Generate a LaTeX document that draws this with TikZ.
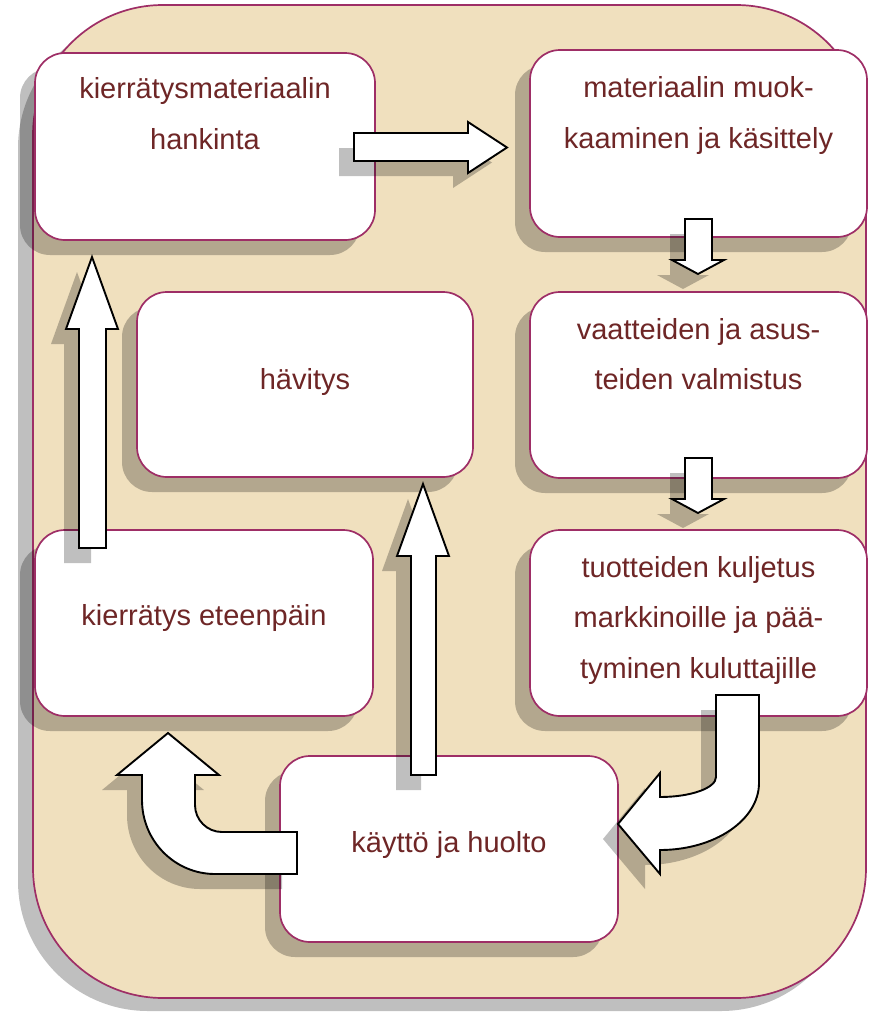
\documentclass[tikz,border=0pt]{standalone}
\usepackage{fontspec}
\setmainfont{Liberation Sans}
\usetikzlibrary{shadows}
\definecolor{bg}{RGB}{240,224,190}
\definecolor{bd}{RGB}{158,46,102}
\definecolor{tx}{RGB}{110,38,38}
\begin{document}
\begin{tikzpicture}[x=1pt,y=-1pt,
  shd/.style={drop shadow={shadow xshift=-15pt,shadow yshift=-15pt,fill=black,opacity=0.25}},
  box/.style={shd,draw=bd,line width=1.7pt,fill=white,rounded corners=30pt,rectangle,inner sep=0pt,minimum width=338pt,minimum height=186pt},
  blk/.style={shd,draw=black,line width=1.9pt,fill=white,line join=miter},
  lbl/.style={text=tx,font=\fontsize{29}{34}\selectfont,anchor=base,inner sep=0pt}]
\useasboundingbox (0,0) rectangle (870,1012);
% background panel
\path[draw=bd,line width=1.7pt,fill=bg,rounded corners=130pt,
  drop shadow={shadow xshift=-15pt,shadow yshift=-13pt,fill=black,opacity=0.25}]
  (33,5) rectangle (866,998);
% boxes
\node[box,minimum width=340pt,minimum height=187pt] (b1) at (205,146.5) {};
\node[box,minimum width=337pt,minimum height=187pt] (b2) at (698.5,143.5) {};
\node[box,minimum width=337pt] (b3) at (698.5,385) {};
\node[box,minimum width=337pt] (b4) at (698.5,623) {};
\node[box,minimum width=336pt,minimum height=185pt] (b5) at (305,384.5) {};
\node[box] (b6) at (204,623) {};
\node[box] (b7) at (449,849) {};
% block arrows
\path[blk] (354,133) -- (468,133) -- (468,122) -- (507,147.5) -- (468,173) -- (468,161) -- (354,161) -- cycle;
\path[blk] (685,219) -- (712,219) -- (712,260) -- (724,260) -- (698,274) -- (672,260) -- (685,260) -- cycle;
\path[blk] (685,458) -- (712,458) -- (712,499) -- (724,499) -- (698,513) -- (672,499) -- (685,499) -- cycle;
\path[blk] (79,548) -- (79,329) -- (66,329) -- (92,257) -- (118,329) -- (106,329) -- (106,548) -- cycle;
\path[blk] (411,775) -- (411,556) -- (397,556) -- (423,484) -- (449,556) -- (436,556) -- (436,775) -- cycle;
\path[blk] (716,695) -- (759,695) -- (759,783)
  .. controls (759,820) and (714.7,850) .. (660,850)
  -- (660,874) -- (618,824) -- (660,773) -- (660,797)
  .. controls (690.9,797) and (716,788) .. (716,777) -- cycle;
\path[blk] (297,832) -- (222,832)
  .. controls (207.1,832) and (195,819.9) .. (195,805)
  -- (195,775) -- (219,775) -- (168,733) -- (117,775) -- (142,775) -- (142,800)
  .. controls (142,840.9) and (174.7,874) .. (215,874) -- (297,874) -- cycle;
% labels
\node[lbl] (t1a) at (205,98) {kierrätysmateriaalin};
\node[lbl] (t1b) at (205,149) {hankinta};
\node[lbl] (t2a) at (698.5,97) {materiaalin muok-};
\node[lbl] (t2b) at (698.5,148) {kaaminen ja käsittely};
\node[lbl] (t3a) at (698.5,339) {vaatteiden ja asus-};
\node[lbl] (t3b) at (698.5,389) {teiden valmistus};
\node[lbl] (t4a) at (698.5,577) {tuotteiden kuljetus};
\node[lbl] (t4b) at (698.5,627) {markkinoille ja pää-};
\node[lbl] (t4c) at (698.5,678) {tyminen kuluttajille};
\node[lbl] (t5) at (305,389) {hävitys};
\node[lbl] (t6) at (204,625) {kierrätys eteenpäin};
\node[lbl] (t7) at (449,852) {käyttö ja huolto};
\end{tikzpicture}
\end{document}
